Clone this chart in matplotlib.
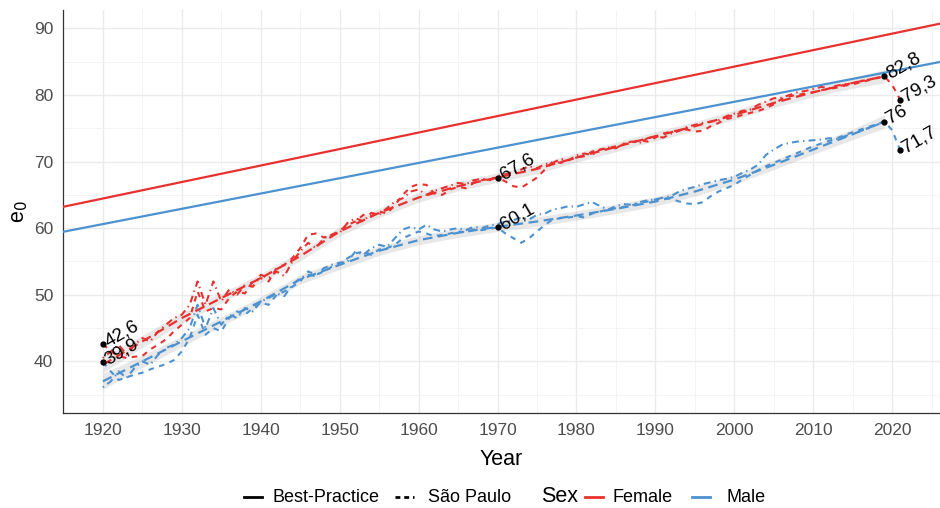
import numpy as np
import matplotlib
matplotlib.use("Agg")
import matplotlib.pyplot as plt
from matplotlib.lines import Line2D

plt.rcParams['font.family'] = ['Liberation Sans', 'DejaVu Sans']
plt.rcParams['lines.scale_dashes'] = False

# ---- data ----
years = np.arange(1920, 2022)          # 1920..2021
years_b = np.arange(1920, 2020)        # 1920..2019

female_sp = [42.6, 41.5, 40.8, 40.5, 40.7, 40.8, 41.8, 42.5, 43.3, 44.5,
             45.5, 46.5, 50.5, 47.5, 48.0, 47.8, 49.5, 50.5, 50.2, 52.0,
             52.5, 52.0, 54.0, 54.5, 55.5, 57.0, 59.0, 59.2, 58.6, 59.0,
             59.6, 60.5, 61.0, 62.0, 61.8, 62.5, 62.2, 63.5, 65.0, 66.2,
             66.6, 66.5, 65.2, 65.0, 65.8, 66.2, 66.0, 66.8, 67.2, 67.4,
             67.6, 67.0, 66.3, 66.1, 66.8, 67.6, 68.8, 70.0, 69.8, 70.2,
             70.6, 70.8, 71.5, 71.8, 72.0, 72.3, 72.6, 72.9, 73.2, 73.0,
             73.6, 74.2, 74.5, 74.7, 74.8, 74.5, 74.6, 75.3, 75.8, 76.4,
             76.6, 77.0, 77.3, 77.6, 78.0, 78.6, 79.4, 79.8, 80.0, 80.2,
             80.4, 80.7, 80.9, 81.1, 81.4, 81.6, 81.9, 82.2, 82.5, 82.8,
             81.5, 79.3]

female_sp2 = [40.5, 41.5, 42.5, 41.0, 42.5, 43.5, 43.0, 44.5, 45.5, 46.5,
              47.0, 48.5, 52.0, 48.5, 52.0, 49.0, 50.8, 50.0, 51.5, 51.2,
              53.0, 52.5, 53.5, 52.8, 55.0, 56.5, 57.8, 57.0, 58.5, 59.0,
              59.3, 60.8, 61.5, 61.0, 62.3, 62.0, 63.0, 64.0, 64.5, 65.5,
              65.8, 65.0, 65.6, 66.0, 66.4, 66.8, 66.6, 67.2, 67.4, 67.2,
              67.8, 68.1, 68.4, 68.8, 69.3, 69.0, 69.6, 69.8, 70.4, 70.2,
              70.9, 71.2, 71.0, 71.8, 72.1, 72.0, 72.7, 73.0, 72.8, 73.5,
              73.8, 73.6, 74.2, 74.6, 75.2, 75.5, 75.8, 76.0, 76.2, 76.8,
              77.2, 77.6, 77.8, 78.5, 79.0, 79.5, 79.6, 80.0, 80.4, 80.6,
              80.9, 81.2, 81.0, 81.4, 81.6, 81.8, 82.1, 82.3, 82.5, 82.7]

male_sp = [39.9, 38.5, 37.2, 37.6, 38.0, 38.3, 38.8, 39.2, 39.6, 40.2,
           41.5, 43.5, 47.0, 44.0, 45.0, 44.5, 46.5, 47.5, 47.0, 48.0,
           48.8, 48.5, 50.0, 50.5, 51.2, 52.0, 53.5, 53.0, 53.5, 54.2,
           54.5, 55.5, 56.2, 56.5, 56.0, 56.8, 57.0, 57.5, 58.5, 59.0,
           59.5, 59.2, 58.8, 59.0, 59.2, 59.5, 59.4, 59.8, 59.7, 59.9,
           60.1, 59.2, 58.5, 57.8, 58.5, 59.5, 60.5, 61.3, 61.5, 61.6,
           61.8, 61.6, 62.2, 62.5, 62.8, 63.0, 63.2, 63.4, 63.8, 64.0,
           64.3, 64.5, 64.4, 64.0, 63.7, 63.6, 63.9, 64.8, 65.5, 66.0,
           66.5, 67.3, 68.0, 68.7, 69.3, 69.8, 70.3, 70.8, 71.3, 71.8,
           72.3, 72.7, 73.1, 73.5, 74.0, 74.4, 74.8, 75.2, 75.6, 76.0,
           74.7, 71.7]

male_sp2 = [36.1, 37.0, 38.5, 37.5, 39.0, 40.0, 39.5, 41.0, 42.0, 42.5,
            43.5, 45.0, 48.5, 45.0, 48.0, 45.5, 47.0, 46.5, 48.0, 47.5,
            49.0, 49.5, 50.2, 49.8, 51.5, 52.5, 53.0, 52.8, 54.0, 54.5,
            54.8, 55.0, 56.5, 56.0, 57.0, 57.5, 57.2, 58.5, 59.8, 60.2,
            59.8, 60.5, 59.8, 59.5, 59.8, 60.0, 59.7, 60.2, 60.0, 60.4,
            60.6, 61.0, 61.2, 61.6, 61.3, 62.0, 62.2, 62.8, 63.0, 63.3,
            63.2, 63.6, 63.9, 63.3, 62.8, 63.3, 63.6, 63.5, 63.9, 64.2,
            64.3, 64.6, 64.8, 65.5, 65.9, 66.2, 66.6, 66.9, 67.2, 67.4,
            67.7, 68.3, 68.8, 69.5, 71.0, 71.8, 72.5, 72.8, 73.0, 73.1,
            73.2, 73.3, 73.5, 73.4, 73.8, 74.2, 74.6, 75.0, 75.5, 75.9]

# smoothed trend and its band half-width
smooth_years = [1920, 1925, 1930, 1935, 1940, 1945, 1950, 1955, 1960, 1965, 1970,
                1975, 1980, 1985, 1990, 1995, 2000, 2005, 2010, 2015, 2019]
female_smooth = [39.5, 43.0, 46.5, 49.5, 52.5, 55.8, 59.5, 62.3, 64.6, 66.3, 67.6,
                 68.9, 70.6, 72.2, 73.8, 75.3, 77.0, 78.8, 80.4, 81.8, 82.8]
male_smooth = [37.0, 40.0, 43.0, 46.0, 49.0, 52.3, 54.5, 56.6, 58.2, 59.3, 60.2,
               61.0, 61.9, 62.9, 64.0, 65.5, 67.3, 69.5, 71.8, 74.1, 76.0]
smooth_se = [1.2, 0.9, 0.8, 0.7, 0.7, 0.7, 0.7, 0.7, 0.7, 0.7, 0.7,
             0.7, 0.7, 0.7, 0.7, 0.7, 0.7, 0.7, 0.7, 0.8, 1.0]

# best-practice trend lines
bp_years = [1914.95, 2026.05]
bp_female = [63.2, 90.7]
bp_male = [59.45, 84.95]

# labelled points
lab_years = [1920, 1970, 2019, 2021]
lab_female = [42.6, 67.6, 82.8, 79.3]
lab_male = [39.9, 60.1, 76.0, 71.7]

RED = "#E8312F"
BLUE = "#4C91D0"

fig = plt.figure(figsize=(9.4, 5.08), dpi=100)
ax = fig.add_axes([63 / 940, 1 - 413 / 508, 877 / 940, 403 / 508])

dash_sp = (0, (4.0, 4.0))
dash_sp2 = (0, (1.0, 3.0, 5.0, 3.0))
dash_smooth = (0, (7.0, 4.0))

for col, sm in [(RED, female_smooth), (BLUE, male_smooth)]:
    sm = np.array(sm)
    se = np.array(smooth_se)
    ax.fill_between(smooth_years, sm - se, sm + se, color="#999999", alpha=0.22,
                    linewidth=0, zorder=2)

ax.plot(years, female_sp, color=RED, lw=1.5, ls=dash_sp, zorder=3)
ax.plot(years_b, female_sp2, color=RED, lw=1.5, ls=dash_sp2, zorder=3)
ax.plot(years, male_sp, color=BLUE, lw=1.5, ls=dash_sp, zorder=3)
ax.plot(years_b, male_sp2, color=BLUE, lw=1.5, ls=dash_sp2, zorder=3)
ax.plot(smooth_years, female_smooth, color=RED, lw=1.6, ls=dash_smooth, zorder=4)
ax.plot(smooth_years, male_smooth, color=BLUE, lw=1.6, ls=dash_smooth, zorder=4)

ax.plot(bp_years, bp_female, color=RED, lw=1.6, zorder=4)
ax.plot(bp_years, bp_male, color=BLUE, lw=1.6, zorder=4)

for yv in [lab_female, lab_male]:
    ax.plot(lab_years, yv, 'o', color='black', ms=3.5, zorder=5)
    for x, y in zip(lab_years, yv):
        txt = f"{y:.1f}".replace(".", ",")
        if txt.endswith(",0"):
            txt = txt[:-2]
        ax.annotate(txt, (x, y), xytext=(2.5, 1), textcoords='offset points',
                    rotation=30, rotation_mode='anchor', ha='left', va='center',
                    fontsize=13.5, color='black', zorder=6)

ax.set_xlim(1914.95, 2026.05)
ax.set_ylim(32.25, 92.75)
ax.set_xticks(np.arange(1920, 2030, 10))
ax.set_xticks(np.arange(1915, 2030, 10), minor=True)
ax.set_yticks(np.arange(40, 100, 10))
ax.set_yticks(np.arange(35, 95, 10), minor=True)
ax.grid(which='major', color='#EBEBEB', lw=1.0, zorder=0)
ax.grid(which='minor', color='#F2F2F2', lw=0.6, zorder=0)
ax.set_axisbelow(True)
ax.tick_params(which='both', length=0, labelsize=12.5, labelcolor='#4D4D4D', pad=7)
for s in ['top', 'right']:
    ax.spines[s].set_visible(False)
for s in ['left', 'bottom']:
    ax.spines[s].set_color('#333333')
    ax.spines[s].set_linewidth(0.9)

ax.set_xlabel("Year", fontsize=15.5, labelpad=8)
ax.set_ylabel("e$_0$", fontsize=15.5, labelpad=3)

# ---- legend at the bottom ----
ly = 1 - 497 / 508


def fx(px):
    return px / 940


def key(x0, x1, color, ls):
    fig.add_artist(Line2D([fx(x0), fx(x1)], [ly, ly], color=color, lw=2.0, ls=ls,
                          transform=fig.transFigure))


key(244, 262, 'black', '-')
fig.text(fx(272), ly, "Best-Practice", fontsize=13, va='center', ha='left')
key(395, 414, 'black', (0, (3.5, 2.8)))
fig.text(fx(428), ly, "São Paulo", fontsize=13, va='center', ha='left')
fig.text(fx(541), ly, "Sex", fontsize=15.5, va='center', ha='left')
key(585, 603, RED, '-')
fig.text(fx(613), ly, "Female", fontsize=13, va='center', ha='left')
key(692, 710, BLUE, '-')
fig.text(fx(727), ly, "Male", fontsize=13, va='center', ha='left')

fig.savefig("out.png", dpi=100)
